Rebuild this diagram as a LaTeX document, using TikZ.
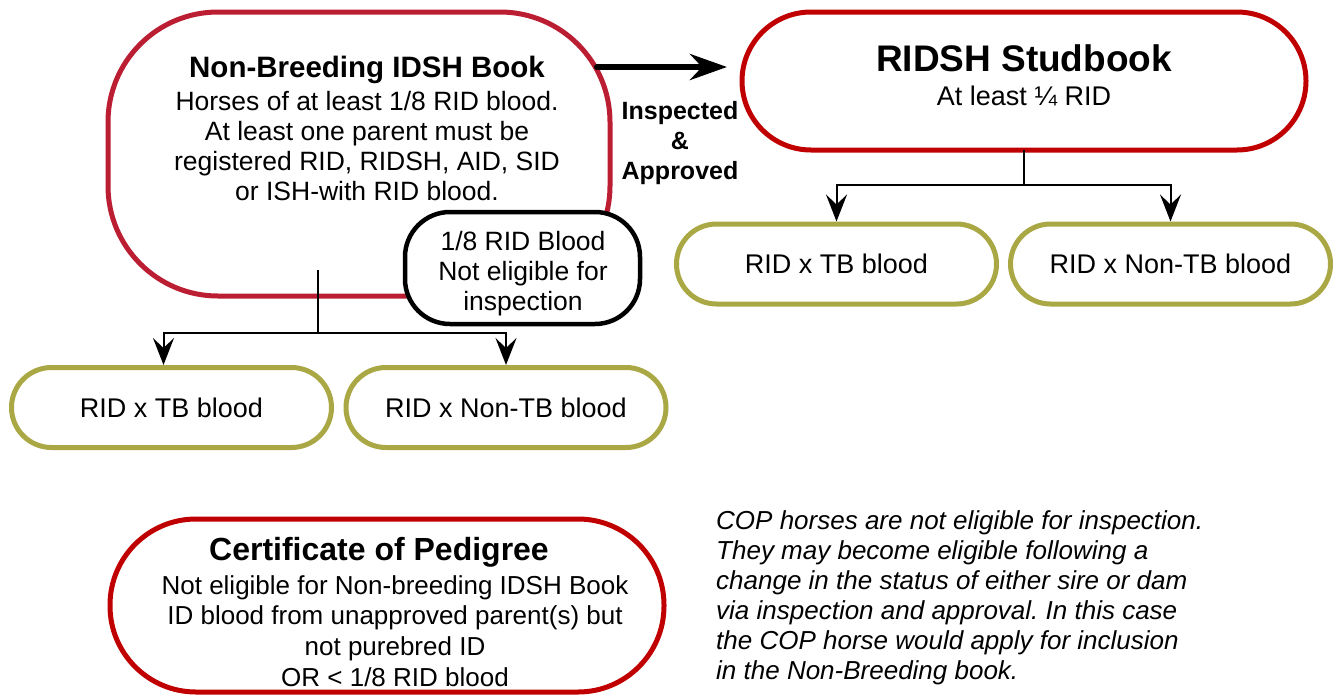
\documentclass[tikz,border=0pt]{standalone}
\usepackage{fontspec}
\setmainfont{Liberation Sans}
\usetikzlibrary{arrows.meta, calc}
\definecolor{bookred}{HTML}{C00000}
\definecolor{nbred}{HTML}{BB1E32}
\definecolor{olivebox}{HTML}{A9A845}
\tikzset{
  book/.style={draw=bookred, line width=5pt, inner sep=0pt, outer sep=0pt},
  crossbox/.style={draw=olivebox, line width=5pt, rounded corners=40pt, minimum width=320pt, minimum height=80pt, fill=white, font=\fontsize{27}{30}\selectfont},
  txt/.style={inner sep=0pt, align=center, font=\fontsize{26.5}{30}\selectfont},
  split/.style={line width=2pt, -{Stealth[length=27pt,width=21pt,inset=10pt]}}
}
\frenchspacing

\begin{document}
\begin{tikzpicture}[x=1pt, y=-1pt]
  \useasboundingbox (0,0) rectangle (1333,694);
  % books
  \node[book, draw=nbred, rounded corners=110pt, minimum width=502pt, minimum height=284pt] (nb) at (359,154) {};
  \node[book, rounded corners=69pt, minimum width=564pt, minimum height=138pt] (rs) at (1024,81) {};
  \node[book, rounded corners=86pt, minimum width=554pt, minimum height=173pt] (cop) at (387,605.5) {};
  \node[draw, line width=4.5pt, rounded corners=45pt, minimum width=235pt, minimum height=112pt, fill=white] (nb8) at (522.5,268) {};

  % crosses
  \node[crossbox] (tbR) at (836.5,264) {RID x TB blood};
  \node[crossbox] (ntbR) at (1170.5,264) {RID x Non-TB blood};
  \node[crossbox] (tbL) at (171.5,407.5) {RID x TB blood};
  \node[crossbox] (ntbL) at (506,407.5) {RID x Non-TB blood};

  % texts
  \node[txt, anchor=north] (nbtxt) at (367,55.5) {{\bfseries\fontsize{29.5}{30}\selectfont Non-Breeding IDSH Book}\\[3pt] Horses of at least 1/8 RID blood.\\ At least one parent must be\\ registered RID, RIDSH, AID, SID\\ or ISH-with RID blood.};
  \node[txt] (nb8txt) at (523,274) {1/8 RID Blood\\ Not eligible for\\ inspection};
  \node[txt, anchor=base, font=\fontsize{37}{40}\selectfont\bfseries] (rstitle) at (1024,71) {RIDSH Studbook};
  \node[txt, anchor=base, font=\fontsize{27}{30}\selectfont] (rstxt) at (1024,105) {At least ¼ RID};
  \node[txt, font=\fontsize{25}{30}\selectfont\bfseries] (insp) at (680,143) {Inspected\\ \&\\ Approved};
  \node[txt, anchor=base, font=\fontsize{32}{34}\selectfont\bfseries] (coptitle) at (379,560) {Certificate of Pedigree};
  \node[txt, anchor=north, font=\fontsize{26}{30.7}\selectfont] (coptxt) at (395,575) {Not eligible for Non-breeding IDSH Book\\ ID blood from unapproved parent(s) but\\ not purebred ID\\ OR < 1/8 RID blood};
  \node[txt, anchor=north west, align=left, font=\fontsize{26}{30}\selectfont\itshape] (copnote) at (716,510) {COP horses are not eligible for inspection.\\ They may become eligible following a\\ change in the status of either sire or dam\\ via inspection and approval. In this case\\ the COP horse would apply for inclusion\\ in the Non-Breeding book.};

  % connectors
  \draw[line width=6pt, line cap=round, -{Stealth[length=37pt,width=26pt,inset=12pt]}] ([shift={(-13,55)}]nb.north east) -- ([shift={(-15,55)}]rs.north west);
  \coordinate (nbstem) at (318,270);
  \draw[line width=2pt] (nbstem) -- ++(0,63) coordinate (nbfork);
  \draw[split] (nbfork) -| ([xshift=-8pt]tbL.north);
  \draw[split] (nbfork) -| (ntbL.north);
  \draw[line width=2pt] (rs.south) -- ++(0,35) coordinate (rsfork);
  \draw[split] (rsfork) -| (tbR.north);
  \draw[split] (rsfork) -| (ntbR.north);
\end{tikzpicture}
\end{document}
